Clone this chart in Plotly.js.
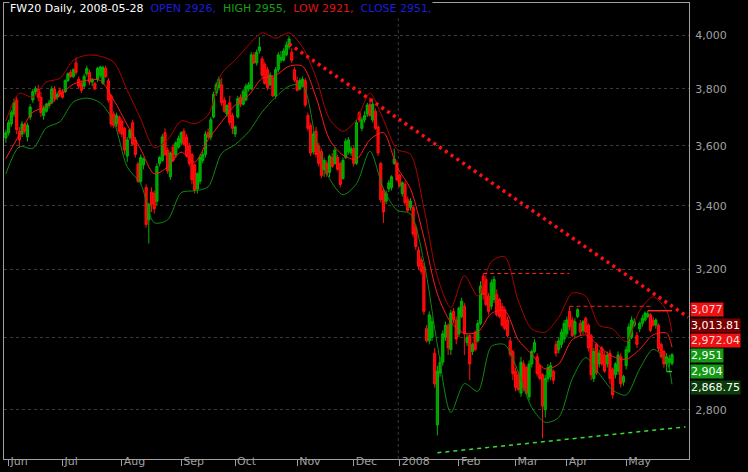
<!DOCTYPE html>
<html><head><meta charset="utf-8">
<script src="https://cdn.plot.ly/plotly-3.0.1.min.js"></script>
<style>html,body{margin:0;padding:0;background:#000;}#chart{width:748px;height:472px;}</style>
</head><body><div id="chart"></div>
<script>
// ---------- data ----------
const firstDay = '2007-05-31';
const lastPadDay = '2008-06-06';
const holidays = ['2007-06-07','2007-08-15','2007-11-01','2007-12-24','2007-12-25','2007-12-26','2007-12-31',
  '2008-01-01','2008-03-21','2008-03-24','2008-05-01','2008-05-22'];

const open = [
3627,3645,3675,3710,3760,3650,3640,3675,3630,3700,
3760,3790,3800,3770,3705,3720,3740,3750,3800,3770,
3795,3790,3790,3830,3860,3845,3895,3835,3820,3810,
3855,3860,3825,3820,3835,3850,3820,3875,3830,3775,
3710,3675,3700,3685,3660,3565,3628,3680,3620,3538,
3480,3535,3460,3355,3445,3440,3415,3540,3550,3645,
3585,3495,3595,3570,3595,3610,3650,3630,3600,3570,
3535,3455,3480,3550,3570,3645,3630,3700,3785,3805,
3815,3760,3710,3750,3705,3640,3700,3770,3745,3760,
3800,3800,3925,3895,3940,3910,3890,3870,3815,3840,
3775,3870,3905,3905,3925,3955,3935,3870,3830,3800,
3810,3830,3705,3670,3580,3650,3600,3580,3520,3540,
3510,3560,3540,3560,3540,3490,3560,3580,3575,3590,
3540,3715,3660,3690,3710,3745,3690,3720,3665,3540,
3450,3415,3455,3460,3540,3540,3500,3440,3470,3420,
3395,3395,3330,3260,3230,3210,3025,2990,3000,2955,
2760,2900,2930,3000,3035,2965,3075,3050,3010,3060,
3090,2985,3005,2960,3015,2990,3040,3180,3170,3120,
3090,3110,3125,3110,3090,3080,3050,2990,2960,2905,
2895,2845,2925,2915,2835,2925,2960,2945,2920,2895,
2800,2885,2890,2905,2980,2965,2980,2995,3010,3075,
3050,3010,3060,3040,3020,3055,3035,3005,2885,2980,
2925,2970,2950,2925,2955,2910,2895,2905,2945,2875,
2920,2960,3000,3035,3005,3025,3040,3050,3060,3065,
3050,3035,3035,2980,2960,2925,2930,2926];
const high = [
3655,3690,3725,3765,3770,3665,3685,3680,3680,3745,
3800,3810,3815,3790,3740,3750,3760,3810,3810,3790,
3805,3800,3835,3860,3870,3875,3915,3845,3830,3855,
3885,3870,3840,3825,3880,3885,3885,3885,3840,3780,
3720,3715,3705,3695,3665,3630,3660,3690,3630,3545,
3570,3560,3470,3410,3460,3450,3540,3565,3640,3660,
3595,3580,3605,3615,3635,3650,3660,3640,3610,3575,
3540,3510,3570,3580,3650,3660,3700,3790,3825,3845,
3840,3770,3745,3775,3715,3670,3775,3780,3800,3820,
3825,3935,3935,3945,3992,3920,3900,3880,3860,3850,
3880,3935,3940,3950,3975,3995,3950,3880,3845,3840,
3845,3840,3715,3680,3650,3665,3610,3590,3560,3550,
3570,3575,3595,3570,3545,3560,3625,3630,3600,3600,
3690,3720,3700,3720,3750,3770,3765,3730,3670,3545,
3460,3450,3485,3500,3590,3550,3505,3480,3480,3430,
3425,3400,3340,3270,3240,3220,3035,3075,3060,2970,
2920,2945,3020,3045,3040,3080,3085,3060,3090,3115,
3100,3010,3010,2985,3020,3050,3165,3188,3180,3130,
3170,3180,3140,3115,3100,3090,3060,3000,2965,2915,
2905,2945,2935,2920,2935,2965,2995,2955,2925,2900,
2895,2925,2930,2910,2990,3000,3025,3050,3060,3090,
3060,3055,3085,3050,3050,3060,3040,3010,2970,2985,
2965,2975,2960,2960,2965,2915,2930,2960,2955,2895,
2975,3040,3060,3055,3015,3045,3065,3075,3077,3070,
3060,3055,3040,2985,2965,2955,2950,2955];
const low = [
3610,3635,3665,3700,3640,3592,3630,3640,3615,3690,
3750,3780,3755,3700,3690,3715,3730,3745,3755,3760,
3770,3765,3785,3825,3840,3840,3850,3800,3785,3800,
3845,3815,3810,3795,3825,3840,3815,3840,3750,3665,
3660,3665,3640,3630,3570,3545,3620,3600,3560,3475,
3470,3520,3330,3280,3380,3375,3400,3530,3545,3565,
3505,3485,3545,3560,3590,3600,3600,3560,3530,3470,
3440,3440,3470,3540,3560,3625,3620,3695,3775,3795,
3740,3715,3700,3670,3640,3630,3695,3735,3740,3755,
3790,3795,3890,3885,3930,3840,3815,3795,3810,3770,
3765,3860,3895,3900,3920,3945,3895,3825,3790,3795,
3805,3735,3650,3565,3570,3560,3530,3490,3495,3495,
3495,3525,3535,3515,3460,3485,3555,3570,3565,3530,
3535,3680,3650,3680,3700,3700,3680,3655,3565,3410,
3345,3405,3445,3450,3535,3480,3460,3430,3400,3380,
3385,3300,3260,3200,3185,3065,2985,2980,2990,2860,
2733,2890,2920,2990,2950,2950,3040,2980,3000,3055,
2950,2975,2880,2950,2960,2985,3035,3110,3090,3065,
3080,3100,3060,3055,3030,3020,3000,2945,2880,2850,
2850,2835,2850,2840,2825,2915,2955,2890,2880,2725,
2780,2875,2880,2870,2945,2955,2970,2985,3000,3020,
3000,3000,3055,3005,3010,3010,2960,2880,2875,2895,
2915,2920,2900,2915,2870,2830,2885,2895,2860,2865,
2910,2955,2995,3030,2970,3015,3030,3045,3055,3015,
3030,3025,2960,2940,2915,2904,2915,2921];
const close = [
3645,3680,3715,3750,3655,3620,3675,3650,3670,3735,
3790,3800,3770,3715,3730,3745,3750,3800,3765,3780,
3780,3770,3830,3855,3845,3870,3860,3810,3795,3845,
3875,3825,3835,3800,3875,3880,3878,3845,3760,3675,
3670,3705,3650,3640,3585,3620,3655,3605,3570,3480,
3560,3555,3340,3405,3405,3390,3530,3560,3630,3570,
3515,3575,3550,3610,3625,3645,3605,3565,3540,3485,
3450,3505,3560,3570,3640,3630,3690,3780,3815,3835,
3750,3720,3740,3680,3660,3665,3765,3745,3790,3810,
3815,3925,3895,3935,3955,3850,3820,3805,3850,3775,
3870,3925,3915,3940,3962,3985,3905,3832,3795,3830,
3835,3742,3660,3575,3640,3570,3540,3500,3550,3505,
3565,3530,3585,3520,3470,3550,3615,3620,3590,3540,
3680,3690,3690,3705,3742,3705,3745,3660,3575,3420,
3380,3440,3475,3495,3555,3485,3465,3475,3410,3385,
3415,3310,3270,3210,3195,3075,2990,3065,3045,2870,
2905,2930,3010,3035,2970,3070,3050,2995,3085,3105,
3010,3000,2925,2980,2965,3040,3150,3125,3095,3075,
3160,3170,3065,3060,3035,3025,3005,2952,2898,2860,
2855,2930,2860,2845,2925,2960,2985,2898,2885,2810,
2885,2915,2920,2880,2955,2990,3015,3040,3050,3030,
3005,3045,3080,3015,3045,3015,2970,2895,2960,2900,
2955,2925,2905,2950,2885,2840,2925,2950,2870,2890,
2965,3030,3050,3045,2980,3040,3055,3070,3068,3020,
3035,3050,2968,2945,2925,2945,2940,2951];

// Bollinger-style bands, read every 5th session (plus the last one)
const bandStep = 5;
const upperBand = [3686,3784,3770,3825,3838,3905,3924,3920,3898,3795,3693,3594,3621,3686,3676,3707,3856,3905,3962,4008,
  3988,4008,3954,3842,3693,3650,3690,3784,3690,3588,3571,3393,3179,3086,3182,3120,3224,3239,3106,3024,
  3015,3058,3129,3120,3035,3024,2988,3077,3118,3077,3013.81];
const midBand = [3557,3638,3717,3736,3777,3817,3831,3831,3760,3672,3588,3505,3528,3578,3544,3621,3683,3742,3777,3838,
  3849,3883,3883,3770,3621,3568,3554,3621,3645,3528,3456,3299,3126,3043,3012,3015,3069,3077,2993,2952,
  2911,2925,2993,3007,2974,2946,2938,2966,3007,3012,2972.04];
const lowerBand = [3505,3597,3591,3662,3683,3753,3767,3750,3683,3528,3472,3346,3355,3443,3449,3462,3574,3604,3648,3717,
  3770,3810,3813,3621,3489,3436,3472,3581,3456,3386,3374,3224,2979,2793,2871,2850,2974,2979,2903,2806,
  2767,2780,2884,2943,2898,2853,2840,2911,2966,2933,2868.75];

const trendRedDates = ['2007-10-29','2008-06-05'];
const trendRedValues = [3966, 3058];
const trendGreenDates = ['2008-01-22','2008-06-04'];
const trendGreenValues = [2688, 2755];

const levelStarts = ['2008-02-14','2008-04-02','2008-05-14','2008-05-26'];
const levelEnds   = ['2008-04-02','2008-05-15','2008-05-28','2008-05-28'];
const levelValues = [3188, 3090, 3077, 2904];

const monthLabels = ['Jun','Jul','Aug','Sep','Oct','Nov','Dec','2008','Feb','Mar','Apr','May'];
const yTickVals = [2800,3000,3200,3400,3600,3800,4000];
// the 3,000 label is hidden behind the price boxes in the original
const yTickText = ['2,800','','3,200','3,400','3,600','3,800','4,000'];

const priceLabelValues = [3077, 3013.81, 2972.04, 2951, 2904, 2868.75];
const priceLabelText = ['3,077','3,013.81','2,972.04','2,951','2,904','2,868.75'];

const chartName = 'FW20 Daily, 2008-05-28';

// ---------- build ----------
function tradingDays(){
  const out=[]; const d=new Date(firstDay+'T00:00:00Z'); const end=new Date(lastPadDay+'T00:00:00Z');
  while(d<=end){ const wd=d.getUTCDay(); const s=d.toISOString().slice(0,10);
    if(wd!==0 && wd!==6 && !holidays.includes(s)) out.push(s);
    d.setUTCDate(d.getUTCDate()+1); }
  return out;
}
const days = tradingDays();
const pos = s => days.indexOf(s);
const n = close.length;
const xs = close.map((_,i)=>i);

const monthTicks=[];
for(let i=1;i<n;i++){ if(days[i].slice(0,7)!==days[i-1].slice(0,7)) monthTicks.push(i); }
const yearIdx = days.indexOf('2008-01-02');

const bandX=[]; for(let i=0;i<n;i+=bandStep) bandX.push(i); if(bandX[bandX.length-1]!==n-1) bandX.push(n-1);

const traces = [
  {type:'candlestick', x:xs, open:open, high:high, low:low, close:close, hoverinfo:'skip', whiskerwidth:0,
   increasing:{line:{color:'#00b400',width:1}, fillcolor:'#00a000'},
   decreasing:{line:{color:'#ff1010',width:1}, fillcolor:'#ff0000'}, showlegend:false},
  {type:'scatter', mode:'lines', x:bandX, y:upperBand, line:{color:'#b00000',width:1,shape:'spline',smoothing:0.8}, hoverinfo:'skip', showlegend:false},
  {type:'scatter', mode:'lines', x:bandX, y:midBand, line:{color:'#ff1a1a',width:1,shape:'spline',smoothing:0.8}, hoverinfo:'skip', showlegend:false},
  {type:'scatter', mode:'lines', x:bandX, y:lowerBand, line:{color:'#0f8a0f',width:1,shape:'spline',smoothing:0.8}, hoverinfo:'skip', showlegend:false},
  {type:'scatter', mode:'lines', x:trendRedDates.map(pos), y:trendRedValues, line:{color:'#ff1010',width:3.5,dash:'3px,4px'}, hoverinfo:'skip', showlegend:false},
  {type:'scatter', mode:'lines', x:trendGreenDates.map(pos), y:trendGreenValues, line:{color:'#33e033',width:1.5,dash:'4px,4px'}, hoverinfo:'skip', showlegend:false}
];
const levelStyles = [
  {color:'#ff2020',width:1,dash:'4px,3px'},
  {color:'#ff2020',width:1,dash:'4px,3px'},
  {color:'#ff2a2a',width:1.5,dash:'solid'},
  {color:'#22cc22',width:1.5,dash:'solid'}];
levelValues.forEach((v,k)=>{
  traces.push({type:'scatter', mode:'lines', x:[pos(levelStarts[k]), pos(levelEnds[k])], y:[v,v],
    line:levelStyles[k], hoverinfo:'skip', showlegend:false});
});

const labelStyles = [
  {bg:'#ee1111', fg:'#ffd6d6', shift:1},
  {bg:'#7a0000', fg:'#ffffff', shift:7.5},
  {bg:'#ee1111', fg:'#ffd6d6', shift:7},
  {bg:'#139913', fg:'#ffffff', shift:-1},
  {bg:'#139913', fg:'#ffffff', shift:0},
  {bg:'#0b3d0b', fg:'#ffffff', shift:-3}];
const annotations = priceLabelValues.map((v,k)=>({
  xref:'paper', x:1, xanchor:'left', xshift:1, yref:'y', y:Math.log10(v), yanchor:'middle', yshift:labelStyles[k].shift,
  text:priceLabelText[k], showarrow:false, bgcolor:labelStyles[k].bg, borderpad:0,
  font:{family:'DejaVu Sans', size:11, color:labelStyles[k].fg}}));
const L = n-1;
annotations.push({xref:'paper', yref:'paper', x:0, y:1, xanchor:'left', yanchor:'middle', xshift:5, yshift:-5,
  showarrow:false, bgcolor:'#000', borderpad:0, align:'left',
  font:{family:'DejaVu Sans', size:11, color:'#ffffff'},
  text: chartName + '  <span style="color:#1c1cd8">OPEN ' + open[L] + ',</span>  <span style="color:#14a014">HIGH ' + high[L] +
    ',</span>  <span style="color:#e01414">LOW ' + low[L] + ',</span>  <span style="color:#1c1cd8">CLOSE ' + close[L] + ',</span>'});

const layout = {
  width:748, height:472, margin:{l:4,r:59,t:3,b:13},
  paper_bgcolor:'#000', plot_bgcolor:'#000', showlegend:false,
  boxgap:0.2, boxgroupgap:0,
  font:{family:'DejaVu Sans', size:11, color:'#a0a0a0'},
  xaxis:{type:'linear', range:[-0.7,253.3], rangeslider:{visible:false}, showgrid:false, zeroline:false,
    tickvals:monthTicks, ticktext:monthLabels, ticks:'outside', ticklen:6, tickcolor:'#a0a0a0', tickwidth:1,
    ticklabelposition:'outside right', ticklabelstandoff:-8, ticklabelshift:1,
    tickfont:{family:'DejaVu Sans', size:11, color:'#a0a0a0'},
    showline:true, linecolor:'#a0a0a0', linewidth:1, mirror:true},
  yaxis:{type:'log', side:'right', range:[3.426853,3.615283], tickvals:yTickVals, ticktext:yTickText, ticks:'',
    showgrid:true, gridcolor:'#3a3a3a', griddash:'dot', gridwidth:1, zeroline:false,
    tickfont:{family:'DejaVu Sans', size:11, color:'#a0a0a0'}, ticklabelstandoff:3,
    showline:true, linecolor:'#a0a0a0', linewidth:1, mirror:true},
  shapes:[{type:'line', xref:'x', yref:'paper', x0:yearIdx-0.5, x1:yearIdx-0.5, y0:0, y1:1,
    line:{color:'#3a3a3a', width:1, dash:'dot'}, layer:'below'}],
  annotations:annotations
};
Plotly.newPlot('chart', traces, layout, {staticPlot:true, displayModeBar:false});
</script></body></html>
